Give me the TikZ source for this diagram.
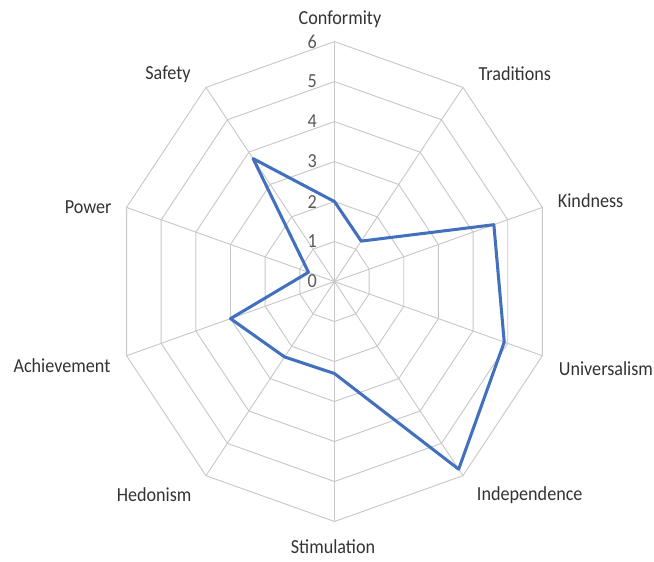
\documentclass[tikz,border=0pt]{standalone}
\usepackage{fontspec}
\setmainfont{Carlito}
\definecolor{gridgray}{RGB}{200,200,200}
\definecolor{lineblue}{RGB}{66,112,190}

\begin{document}
\begin{tikzpicture}[x=1.2cm,y=1.2cm,xscale=0.911,
    every node/.style={transform shape,font=\fontsize{17}{20}\selectfont,text=black!80},
    ticklabel/.style={anchor=east,inner sep=1pt,text=black!65}]
    \useasboundingbox (-9.18,-7.01) rectangle (8.77,7.04);
    \begin{scope}[gridgray,line width=0.8pt]
    \foreach \r in {1,...,6}
        \draw (90:\r) \foreach \i in {1,...,9} {-- ({90-36*\i}:\r)} -- cycle;
    \foreach \i in {0,...,9}
        \draw (0,0) -- ({90-36*\i}:6);
    \end{scope}
    \foreach \k in {0,...,6}
        \node[ticklabel] (tick\k) at (-0.45,\k) {\k};
    \foreach \v [count=\i from 0] in {2,1.25,4.6,4.9,5.8,2.3,2.33,3,0.75,3.8}
        \coordinate (p\i) at ({90-36*\i}:\v);
    \draw [lineblue,line width=2.6pt,line join=round] (p0) \foreach \i in {1,...,9} {-- (p\i)} -- cycle;
    \node (conformity)   at (0.15,6.57)   {Conformity};
    \node (traditions)   at (4.95,5.21)   {Traditions};
    \node (kindness)     at (7.03,2.02)   {Kindness};
    \node (universalism) at (7.45,-2.18)  {Universalism};
    \node (independence) at (5.36,-5.35)  {Independence};
    \node[inner sep=0pt] (stimulation) at (-0.04,-6.64) {Stimulation};
    \node (hedonism)     at (-4.95,-5.32) {Hedonism};
    \node (achievement)  at (-7.48,-2.11) {Achievement};
    \node (power)        at (-6.76,1.86)  {Power};
    \node (safety)       at (-4.57,5.19)  {Safety};
\end{tikzpicture}
\end{document}
